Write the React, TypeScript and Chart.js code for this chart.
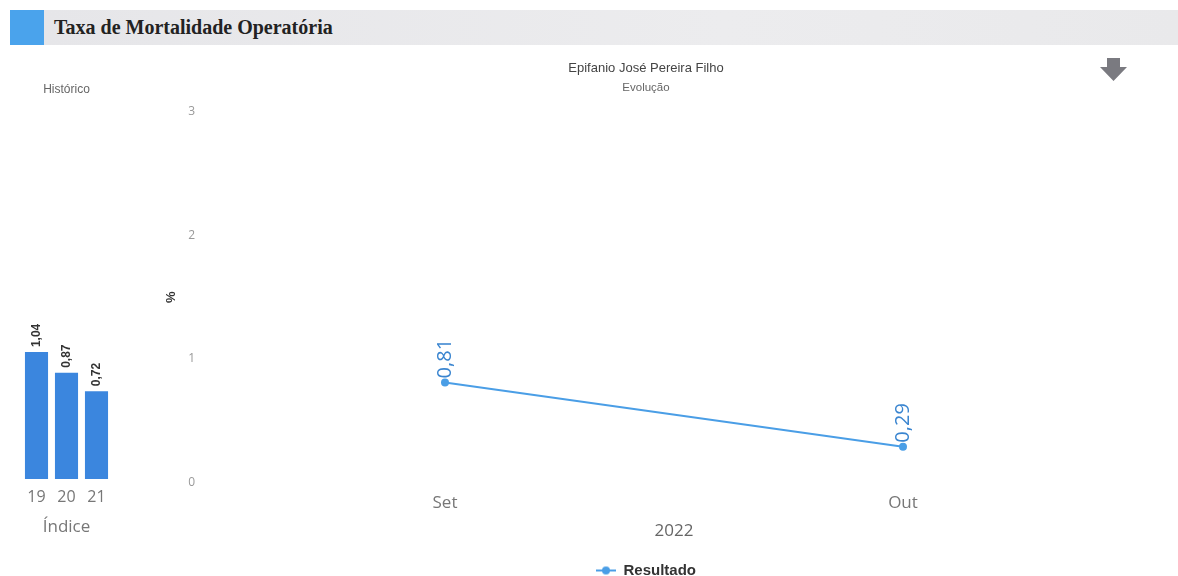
import React, { useEffect, useRef } from "react";
import { Chart, registerables } from "chart.js";

Chart.register(...registerables);

const histCategories = ["19", "20", "21"];
const histValues = [1.04, 0.87, 0.72];
const months = ["Set", "Out"];
const resultValues = [0.81, 0.29];
const yMin = 0;
const yMax = 3;

const BAR_COLOR = "#3b86de";
const LINE_COLOR = "#4a9ee6";
const TICK_FONT = "'Open Sans', sans-serif";
const SANS = "'Liberation Sans', Arial, sans-serif";

const fmt = (v: number) => v.toFixed(2).replace(".", ",");

function makeValueLabels(id: string, font: string, color: string, offset: number) {
  return {
    id,
    afterDatasetsDraw(chart: any) {
      const ctx = chart.ctx;
      chart.data.datasets.forEach((ds: any, i: number) => {
        const meta = chart.getDatasetMeta(i);
        meta.data.forEach((el: any, j: number) => {
          const v = ds.data[j] as number;
          const { x, y } = el.getProps(["x", "y"], true);
          ctx.save();
          ctx.translate(x, y - offset);
          ctx.rotate(-Math.PI / 2);
          ctx.font = font;
          ctx.fillStyle = color;
          ctx.textAlign = "left";
          ctx.textBaseline = "middle";
          ctx.fillText(fmt(v), 0, 0);
          ctx.restore();
        });
      });
    },
  };
}

function legendIcon(): HTMLCanvasElement {
  const c = document.createElement("canvas");
  c.width = 20;
  c.height = 10;
  const g = c.getContext("2d")!;
  g.strokeStyle = LINE_COLOR;
  g.lineWidth = 2;
  g.beginPath();
  g.moveTo(0, 5);
  g.lineTo(20, 5);
  g.stroke();
  g.fillStyle = LINE_COLOR;
  g.beginPath();
  g.arc(10, 5, 4, 0, Math.PI * 2);
  g.fill();
  return c;
}

function HistChart() {
  const ref = useRef<HTMLCanvasElement>(null);
  useEffect(() => {
    const chart = new Chart(ref.current!, {
      type: "bar",
      data: {
        labels: histCategories,
        datasets: [
          {
            label: "Histórico",
            data: histValues,
            backgroundColor: BAR_COLOR,
            barPercentage: 0.77,
            categoryPercentage: 1,
          },
        ],
      },
      options: {
        animation: false,
        responsive: false,
        maintainAspectRatio: false,
        layout: { padding: { left: 21.5, right: 4.5, top: 0, bottom: 0 } },
        plugins: {
          legend: { display: false },
          tooltip: { enabled: false },
          title: {
            display: true,
            text: "Histórico",
            color: "#666",
            font: { family: SANS, size: 12, weight: "normal" },
            padding: { top: 4.8, bottom: 15.8 },
          },
        },
        scales: {
          y: { display: false, min: yMin, max: yMax },
          x: {
            grid: { display: false, drawTicks: false },
            border: { display: false },
            ticks: { color: "#777", font: { family: TICK_FONT, size: 16 }, padding: 8.4 },
            title: {
              display: true,
              text: "Índice",
              color: "#777",
              font: { family: TICK_FONT, size: 17 },
              padding: { top: 0, bottom: 10.8 },
            },
            afterFit: (s: any) => {
              s.height = 69;
            },
          },
        },
      },
      plugins: [makeValueLabels("barLabels", `bold 12px ${SANS}`, "#333", 5)],
    });
    return () => chart.destroy();
  }, []);
  return (
    <canvas
      ref={ref}
      width={116}
      height={470}
      style={{ position: "absolute", left: 0, top: 78, width: 116, height: 470 }}
    />
  );
}

function MainChart() {
  const ref = useRef<HTMLCanvasElement>(null);
  useEffect(() => {
    const icon = legendIcon();
    const chart = new Chart(ref.current!, {
      type: "line",
      data: {
        labels: months,
        datasets: [
          {
            label: "Resultado",
            data: resultValues,
            borderColor: LINE_COLOR,
            backgroundColor: LINE_COLOR,
            borderWidth: 2,
            pointRadius: 4,
            pointBackgroundColor: LINE_COLOR,
            pointBorderWidth: 0,
            tension: 0,
          },
        ],
      },
      options: {
        animation: false,
        responsive: false,
        maintainAspectRatio: false,
        layout: { padding: { left: 56, right: 46, top: 0, bottom: 0 } },
        plugins: {
          tooltip: { enabled: false },
          title: {
            display: true,
            text: "Epifanio José Pereira Filho",
            color: "#444",
            font: { family: SANS, size: 13, weight: "normal" },
            padding: { top: 10.2, bottom: 0 },
          },
          subtitle: {
            display: true,
            text: "Evolução",
            color: "#666",
            font: { family: SANS, size: 11.5, weight: "normal" },
            padding: { top: 5.3, bottom: 16.9 },
          },
          legend: {
            position: "bottom",
            labels: {
              usePointStyle: true,
              pointStyleWidth: 20,
              padding: 10,
              color: "#333",
              font: { family: SANS, size: 15, weight: "bold" },
              generateLabels: (c: any) =>
                Chart.defaults.plugins.legend.labels
                  .generateLabels(c)
                  .map((l: any) => ({ ...l, pointStyle: icon })),
            },
          },
        },
        scales: {
          y: {
            min: yMin,
            max: yMax,
            grid: { display: false, drawTicks: false },
            border: { display: false },
            ticks: { stepSize: 1, color: "#999", font: { family: TICK_FONT, size: 12 }, padding: 21 },
            title: {
              display: true,
              text: "%",
              color: "#333",
              font: { family: SANS, size: 13, weight: "bold" },
              padding: { top: 4, bottom: 4 },
            },
            afterFit: (s: any) => {
              s.width = 56;
            },
          },
          x: {
            offset: true,
            grid: { display: false, drawTicks: false },
            border: { display: false },
            ticks: { color: "#777", font: { family: TICK_FONT, size: 17 }, padding: 10.8 },
            title: {
              display: true,
              text: "2022",
              color: "#666",
              font: { family: TICK_FONT, size: 17 },
              padding: { top: 0, bottom: 11.3 },
            },
            afterFit: (s: any) => {
              s.height = 70.5;
            },
          },
        },
      },
      plugins: [makeValueLabels("pointLabels", `20px ${TICK_FONT}`, "#3a85d0", 4)],
    });
    return () => chart.destroy();
  }, []);
  return (
    <canvas
      ref={ref}
      width={1074}
      height={538}
      style={{ position: "absolute", left: 104, top: 50, width: 1074, height: 538 }}
    />
  );
}

export default function App() {
  return (
    <div
      style={{
        position: "fixed",
        left: 0,
        top: 0,
        width: 1178,
        height: 576,
        overflow: "hidden",
        background: "#fff",
      }}
    >
      <div
        style={{
          position: "absolute",
          left: 44,
          top: 10,
          width: 1134,
          height: 35,
          background: "linear-gradient(90deg, #e6e6e9 0%, #ececee 60%, #e9e9eb 100%)",
        }}
      />
      <div
        style={{
          position: "absolute",
          left: 10,
          top: 10,
          width: 34,
          height: 35,
          background: "#4aa3ec",
        }}
      />
      <div
        style={{
          position: "absolute",
          left: 54,
          top: 14,
          height: 26,
          lineHeight: "26px",
          fontFamily: "'Liberation Serif', 'Times New Roman', serif",
          fontWeight: "bold",
          fontSize: 20,
          color: "#222",
          whiteSpace: "nowrap",
        }}
      >
        Taxa de Mortalidade Operatória
      </div>
      <svg
        style={{ position: "absolute", left: 1099, top: 57 }}
        width={30}
        height={26}
        viewBox="0 0 30 26"
      >
        <polygon points="8,1 21,1 21,10 28,10 14.5,24 1,10 8,10" fill="#7a7a80" />
      </svg>
      <HistChart />
      <MainChart />
    </div>
  );
}
